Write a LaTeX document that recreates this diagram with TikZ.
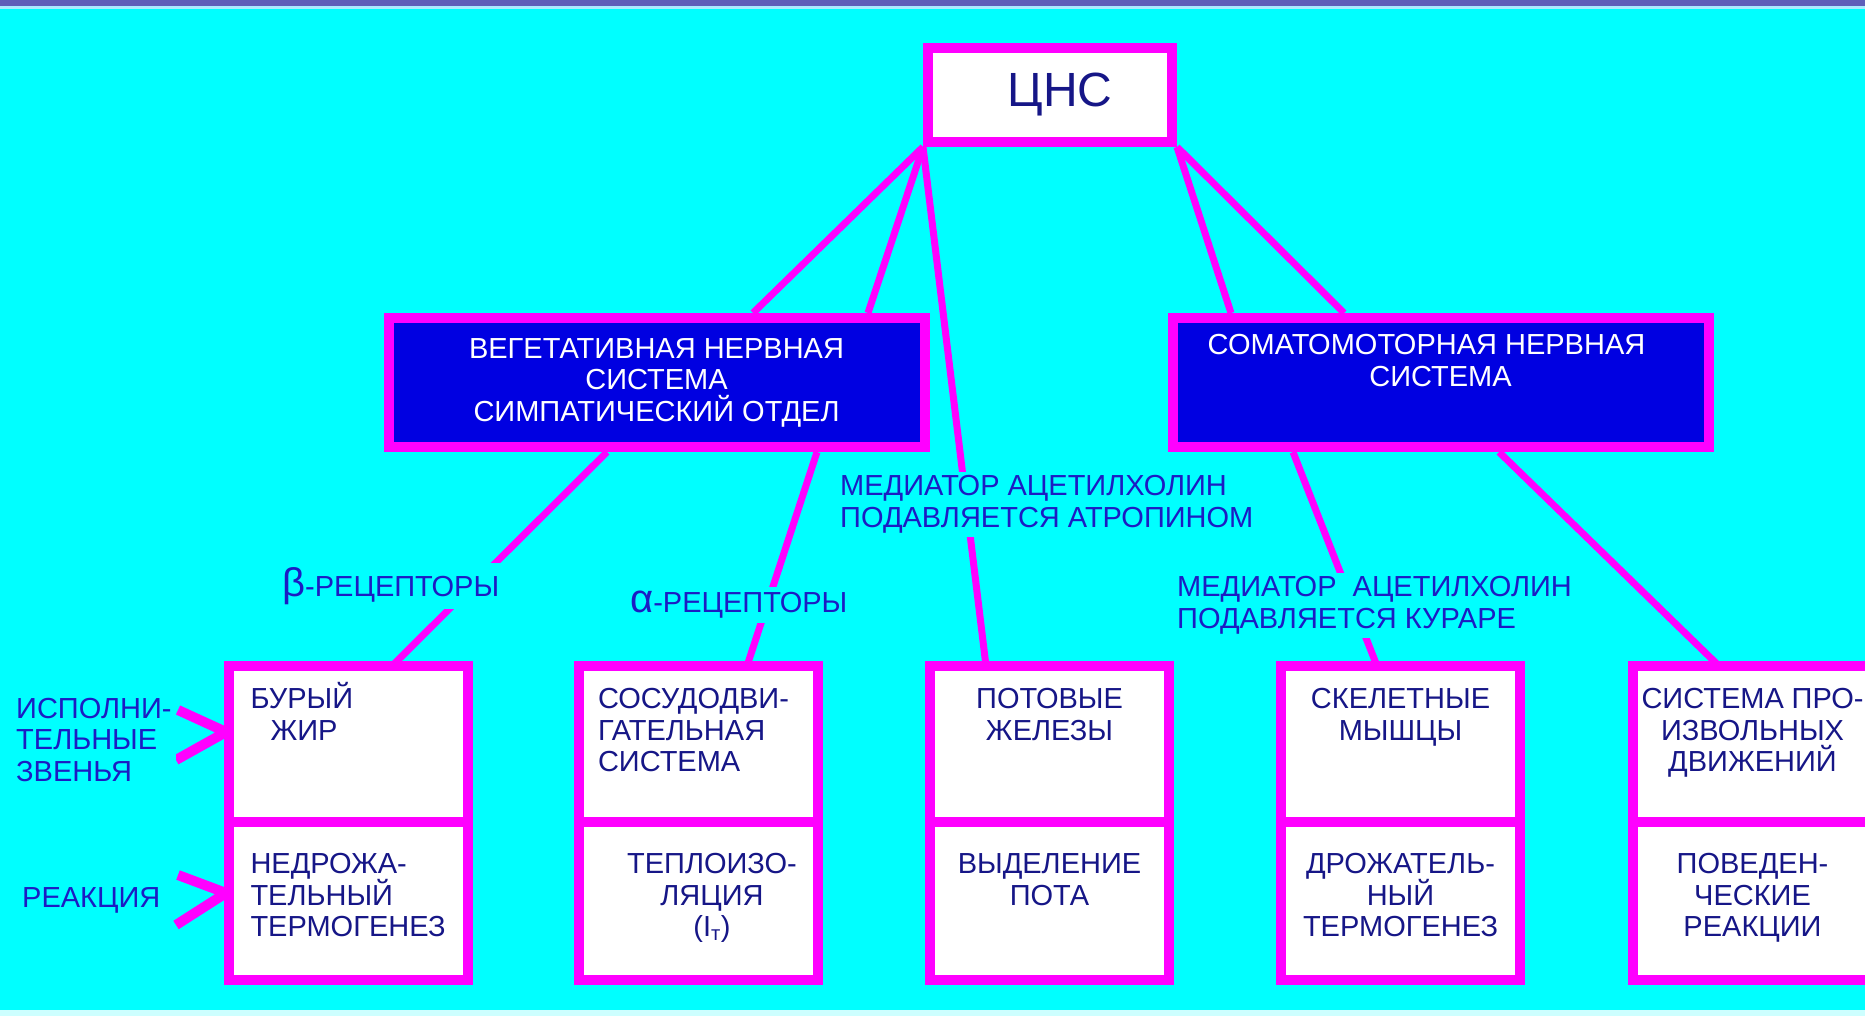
\documentclass[tikz,border=0pt]{standalone}
\usepackage{fontspec}
\setmainfont{Liberation Sans}
\usepackage{xcolor}
\usepackage{tikz}
\usetikzlibrary{positioning}

\definecolor{bgcyan}{RGB}{0,255,255}
\definecolor{pinkline}{RGB}{255,0,255}
\definecolor{deepblue}{RGB}{0,0,225}
\definecolor{navytext}{RGB}{22,22,135}
\definecolor{labeltext}{RGB}{28,28,195}
\definecolor{topbar}{RGB}{95,95,185}
\definecolor{barglow}{RGB}{170,235,255}
\definecolor{bottomglow}{RGB}{205,255,255}

% top-aligned text in a cell of fixed height
\newcommand{\celltext}[3][\centering]{%
  \parbox[c][#2][t]{222pt}{\lineskiplimit=-100pt #1\rule{0pt}{28pt}#3}}

\begin{document}
\begin{tikzpicture}[x=1pt, y=-1pt,
  every node/.style={font=\fontsize{29}{31.5}\selectfont},
  cns/.style={draw=pinkline, line width=10pt, fill=white, text=navytext,
    minimum width=244pt, minimum height=94pt, font=\fontsize{48}{52}\selectfont},
  division/.style={draw=pinkline, line width=10pt, fill=deepblue, text=white,
    align=center, minimum width=536pt, minimum height=129pt, inner sep=0pt},
  cell/.style={draw=pinkline, line width=10pt, fill=white, text=navytext,
    minimum width=239pt, inner sep=0pt, outer sep=0pt},
  upper/.style={cell, minimum height=156pt},
  lower/.style={cell, minimum height=158pt},
  link/.style={draw=pinkline, line width=7pt},
  chevron/.style={draw=pinkline, line width=10pt, line join=round},
  lbl/.style={text=labeltext, fill=bgcyan, align=left, inner sep=4pt, anchor=west}
]
% Background
\clip (0,0) rectangle (1865,1016);
\fill[bgcyan] (0,0) rectangle (1865,1016);
\fill[topbar] (0,0) rectangle (1865,6);
\fill[barglow] (0,6) rectangle (1865,9);
\fill[bottomglow] (0,1010) rectangle (1865,1016);

% Centre and divisions
\node[cns] (cns) at (1050,95) {\hspace*{20pt}ЦНС};
\node[division] (veg) at (656.5,382.5)
  {ВЕГЕТАТИВНАЯ НЕРВНАЯ\\СИСТЕМА\\СИМПАТИЧЕСКИЙ ОТДЕЛ};
\node[division] (soma) at (1440.5,382.5)
  {СОМАТОМОТОРНАЯ НЕРВНАЯ\hspace*{28pt}\\СИСТЕМА\hspace*{28pt}\\[12pt]\phantom{С}};

% Effector cells and reactions
\node[upper] (fat) at (348.5,744)
  {\celltext[\raggedright\leftskip=13pt]{127pt}{БУРЫЙ\\\hspace*{20pt}ЖИР}};
\node[lower, below=0pt of fat] (fatR)
  {\celltext[\raggedright\leftskip=13pt]{111pt}{НЕДРОЖА-\\ТЕЛЬНЫЙ\\ТЕРМОГЕНЕЗ}};
\node[upper] (vessel) at (698,744)
  {\celltext[\raggedright\leftskip=11pt]{127pt}{СОСУДОДВИ-\\ГАТЕЛЬНАЯ\\СИСТЕМА}};
\node[lower, below=0pt of vessel] (vesselR)
  {\celltext[\centering\advance\leftskip 28pt]{111pt}{ТЕПЛОИЗО-\\ЛЯЦИЯ\\(I\textsubscript{т})}};
\node[upper] (sweat) at (1049.5,744)
  {\celltext{127pt}{ПОТОВЫЕ\\ЖЕЛЕЗЫ}};
\node[lower, below=0pt of sweat] (sweatR)
  {\celltext{111pt}{ВЫДЕЛЕНИЕ\\ПОТА}};
\node[upper] (muscle) at (1400.5,744)
  {\celltext{127pt}{СКЕЛЕТНЫЕ\\МЫШЦЫ}};
\node[lower, below=0pt of muscle] (muscleR)
  {\celltext{111pt}{ДРОЖАТЕЛЬ-\\НЫЙ\\ТЕРМОГЕНЕЗ}};
\node[upper] (motion) at (1752.5,744)
  {\celltext{127pt}{СИСТЕМА ПРО-\\ИЗВОЛЬНЫХ\\ДВИЖЕНИЙ}};
\node[lower, below=0pt of motion] (motionR)
  {\celltext{111pt}{ПОВЕДЕН-\\ЧЕСКИЕ\\РЕАКЦИИ}};

% Links
\draw[link] (cns.south west) -- ([xshift=96.5pt]veg.north);
\draw[link] (cns.south west) -- ([xshift=211.5pt]veg.north);
\draw[link] (cns.south west) -- ([xshift=-63.5pt]sweat.north);
\draw[link] (cns.south east) -- ([xshift=-209.5pt]soma.north);
\draw[link] (cns.south east) -- ([xshift=-96.5pt]soma.north);
\draw[link] ([xshift=-49.5pt]veg.south) -- ([xshift=43.5pt]fat.north);
\draw[link] ([xshift=160.5pt]veg.south) -- ([xshift=49pt]vessel.north);
\draw[link] ([xshift=-147.5pt]soma.south) -- ([xshift=-23.5pt]muscle.north);
\draw[link] ([xshift=58.5pt]soma.south) -- ([xshift=-33.5pt]motion.north);

% Pointers on the left
\coordinate (exA) at (178,710);
\coordinate (exB) at (176,760);
\coordinate (reA) at (178,875);
\coordinate (reB) at (176,925);
\draw[chevron] (exA) -- ([xshift=-3pt,yshift=12pt]fat.west) -- (exB);
\draw[chevron] (reA) -- ([xshift=-3pt,yshift=8pt]fatR.west) -- (reB);

% Labels
\node[lbl] (beta) at (278,586) {{\fontsize{40}{40}\selectfont β}-РЕЦЕПТОРЫ};
\node[lbl] (alpha) at (626,605) {{\fontsize{40}{40}\selectfont α}-РЕЦЕПТОРЫ};
\node[lbl] (atropine) at (836,504.5) {МЕДИАТОР АЦЕТИЛХОЛИН\\ПОДАВЛЯЕТСЯ АТРОПИНОМ};
\node[lbl] (curare) at (1173,605.5) {МЕДИАТОР\ \ АЦЕТИЛХОЛИН\\ПОДАВЛЯЕТСЯ КУРАРЕ};
\node[lbl] (effectors) at (12,740) {ИСПОЛНИ-\\ТЕЛЬНЫЕ\\ЗВЕНЬЯ};
\node[lbl] (reaction) at (18,900) {РЕАКЦИЯ};
\end{tikzpicture}
\end{document}
